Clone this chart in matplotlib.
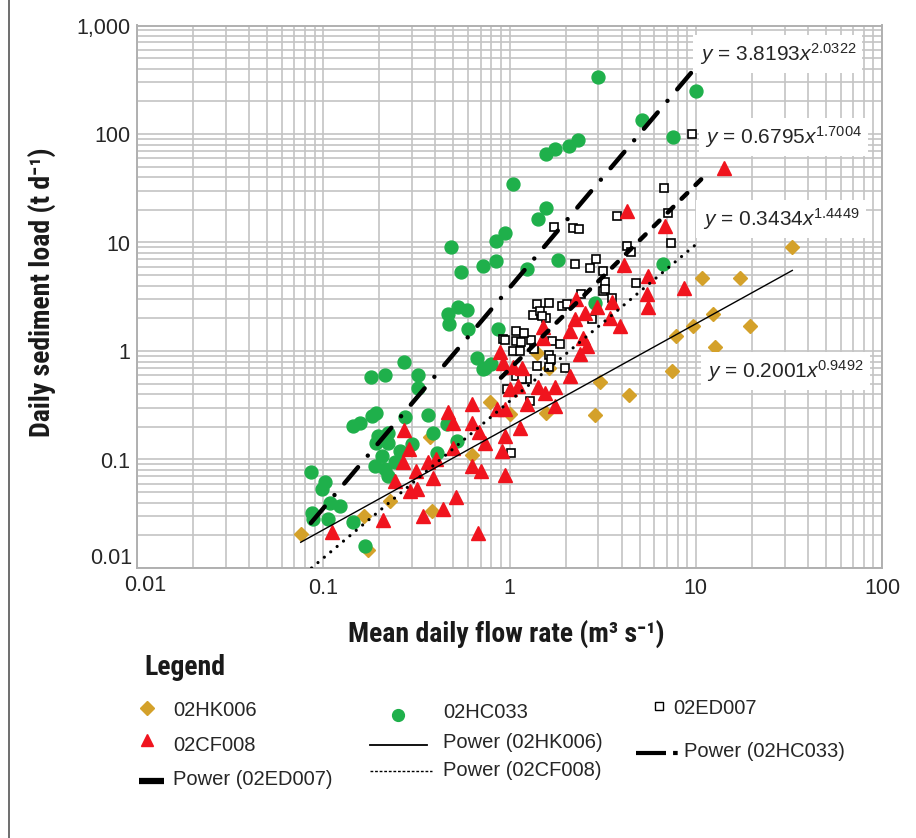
import numpy as np
import matplotlib
matplotlib.use('Agg')
import matplotlib.pyplot as plt
from matplotlib.lines import Line2D
from matplotlib.ticker import LogLocator, NullFormatter
from matplotlib import font_manager as fm

plt.rcParams['mathtext.fontset'] = 'custom'
plt.rcParams['mathtext.rm'] = 'Liberation Sans'
plt.rcParams['mathtext.it'] = 'Liberation Sans:italic'
plt.rcParams['mathtext.bf'] = 'Liberation Sans:bold'

# ---------------- data ----------------
hk_x = [0.0757, 0.166, 0.173, 0.228, 0.382, 0.374, 0.627, 0.786, 1.00, 1.58, 1.40, 1.62,
        3.06, 4.40, 2.88, 7.43, 7.82, 9.68, 12.7, 12.4, 19.5, 10.8, 17.3, 32.8]
hk_y = [0.0205, 0.0302, 0.0146, 0.0416, 0.0337, 0.161, 0.111, 0.340, 0.262, 0.271, 0.95, 0.704,
        0.519, 0.391, 0.256, 0.655, 1.38, 1.70, 1.10, 2.18, 1.70, 4.69, 4.69, 9.0]

hc_x = [0.0859, 0.102, 0.0983, 0.0868, 0.0877, 0.1066, 0.109, 0.123, 0.144, 0.168,
        0.145, 0.158, 0.182, 0.192, 0.180, 0.215, 0.272, 0.324, 0.324, 0.469,
        0.531, 0.589, 0.475, 0.601, 0.667, 0.724, 0.366, 0.275, 0.197, 0.224,
        0.192, 0.224, 0.258, 0.298, 0.206, 0.190, 0.215, 0.224, 0.242, 0.390,
        0.406, 0.520, 0.460, 0.871, 0.739, 0.80, 2.88, 3.0, 1.58, 1.76,
        2.09, 2.34, 1.05, 1.58, 1.43, 0.946, 0.846, 0.485, 0.547, 0.718,
        0.846, 1.24, 1.83, 10.0, 5.12, 7.53, 6.70]
hc_y = [0.0769, 0.0622, 0.0532, 0.032, 0.028, 0.028, 0.040, 0.037, 0.0263, 0.0158,
        0.204, 0.216, 0.252, 0.271, 0.577, 0.598, 0.794, 0.598, 0.457, 2.18,
        2.52, 2.39, 1.77, 1.61, 0.853, 0.68, 0.258, 0.244, 0.165, 0.177,
        0.143, 0.143, 0.120, 0.138, 0.108, 0.0873, 0.0812, 0.0706, 0.094, 0.177,
        0.116, 0.148, 0.211, 1.59, 0.69, 0.755, 2.76, 332, 65.2, 73.5,
        76.7, 87.6, 34.5, 21.0, 16.4, 12.3, 10.3, 9.1, 5.35, 6.1,
        6.7, 5.66, 6.87, 250, 135, 94.6, 6.3]

ed_x = [0.926, 0.946, 1.09, 1.09, 1.05, 1.14, 1.30, 1.69, 1.87, 1.62, 1.40, 1.62,
        1.99, 1.24, 1.09, 0.966, 1.29, 1.02, 1.40, 1.62, 1.33, 1.46, 1.58, 1.91,
        2.03, 2.76, 3.54, 3.19, 3.26, 4.76, 3.19, 2.25, 2.71, 2.93, 4.26, 4.47,
        1.74, 2.18, 2.37, 3.79, 7.12, 7.33, 6.76, 9.51, 1.20, 1.15, 1.35, 1.50,
        2.42, 1.68, 1.16, 3.26]
ed_y = [1.28, 1.26, 1.53, 1.24, 1.00, 1.00, 1.27, 1.24, 1.16, 0.915, 0.729, 0.719,
        0.704, 0.55, 0.589, 0.444, 0.347, 0.116, 2.70, 2.76, 2.14, 2.34, 2.03, 2.60,
        2.70, 1.96, 3.11, 3.58, 4.35, 4.21, 5.47, 6.3, 5.76, 7.0, 9.3, 8.1,
        14.0, 13.7, 13.3, 17.6, 18.9, 9.8, 31.5, 101, 1.45, 1.20, 1.05, 2.10,
        3.34, 0.84, 0.55, 3.70]

cf_x = [0.111, 0.210, 0.271, 0.287, 0.269, 0.315, 0.242, 0.292, 0.317, 0.390,
        0.366, 0.403, 0.345, 0.441, 0.516, 0.469, 0.499, 0.627, 0.627, 0.690,
        0.495, 0.627, 0.700, 0.680, 0.739, 0.853, 0.946, 1.24, 1.14, 0.946,
        0.908, 0.946, 1.75, 0.889, 0.926, 1.05, 1.16, 1.01, 1.11, 1.43,
        1.55, 1.75, 2.11, 1.52, 1.51, 2.11, 2.49, 2.60, 2.39, 2.27,
        2.54, 2.25, 2.94, 3.54, 3.46, 3.92, 4.12, 4.29, 5.56, 5.45,
        5.56, 6.83, 8.6, 14.2]
cf_y = [0.0215, 0.0278, 0.187, 0.124, 0.094, 0.0787, 0.0636, 0.0515, 0.0532, 0.0682,
        0.094, 0.101, 0.0302, 0.0348, 0.0447, 0.275, 0.219, 0.323, 0.219, 0.178,
        0.129, 0.0873, 0.0787, 0.0212, 0.143, 0.291, 0.291, 0.323, 0.197, 0.165,
        0.120, 0.0718, 0.312, 0.969, 0.783, 0.719, 0.704, 0.444, 0.477, 0.461,
        0.414, 0.461, 0.589, 1.65, 1.33, 1.53, 1.33, 1.11, 0.934, 3.0,
        2.26, 1.96, 2.52, 2.80, 2.0, 1.70, 6.2, 19.5, 4.86, 3.34,
        2.52, 14.2, 3.77, 48.3]

# power trendlines: coefficient, exponent, drawn x-range
fit_names = ['02HK006', '02CF008', '02ED007', '02HC033']
fit_a = [0.2001, 0.3434, 0.6795, 3.8193]
fit_b = [0.9492, 1.4449, 1.7004, 2.0322]
fit_lo = [0.0757, 0.080, 0.90, 0.0859]
fit_hi = [33.0, 10.3, 11.0, 9.7]
eq_text = [r'$\mathit{y}$ = 0.2001$\mathit{x}^{0.9492}$',
           r'$\mathit{y}$ = 0.3434$\mathit{x}^{1.4449}$',
           r'$\mathit{y}$ = 0.6795$\mathit{x}^{1.7004}$',
           r'$\mathit{y}$ = 3.8193$\mathit{x}^{2.0322}$']
eq_pos = [(11.5, 0.652), (10.9, 16.4), (11.2, 93.5), (10.5, 543)]

x_ticks = [0.01, 0.1, 1, 10, 100]
x_labels = ['0.01', '0.1', '1', '10', '100']
y_ticks = [0.01, 0.1, 1, 10, 100, 1000]
y_labels = ['0.01', '0.1', '1', '10', '100', '1,000']

# ---------------- styles ----------------
C_GOLD = '#d4a12a'
C_GREEN = '#1fb04b'
C_RED = '#f0141e'
GRID = '#c4c4c4'
TXT = '#262626'
W, H = 916, 838

# choose a condensed bold family for titles if one is installed
_fl = fm.fontManager.ttflist


def _has(name, stretch=None):
    for f in _fl:
        if f.name == name and (stretch is None or f.stretch == stretch):
            w = f.weight if isinstance(f.weight, int) else 700
            if w >= 600:
                return True
    return False


if _has('Liberation Sans Narrow'):
    title_kw = dict(family=['Liberation Sans Narrow', 'DejaVu Sans'])
elif _has('Roboto Condensed'):
    title_kw = dict(family=['Roboto Condensed', 'DejaVu Sans'])
elif _has('DejaVu Sans', 'condensed'):
    title_kw = dict(family=['DejaVu Sans'], fontstretch='condensed')
elif _has('Open Sans', 'condensed'):
    title_kw = dict(family=['Open Sans', 'DejaVu Sans'], fontstretch='condensed')
else:
    title_kw = dict(family=['Liberation Sans', 'DejaVu Sans'])

fig = plt.figure(figsize=(W / 100, H / 100), dpi=100)
ax = fig.add_axes([137 / W, 1 - 568 / H, (882 - 137) / W, (568 - 25.5) / H])
ax.set_xscale('log')
ax.set_yscale('log')
ax.set_xlim(0.01, 100)
ax.set_ylim(0.01, 1000)

for ax_ in (ax.xaxis, ax.yaxis):
    ax_.set_minor_locator(LogLocator(base=10, subs=np.arange(2, 10), numticks=20))
    ax_.set_minor_formatter(NullFormatter())
ax.grid(which='both', color=GRID, lw=1.2)
ax.set_axisbelow(True)
for s in ax.spines.values():
    s.set_color('#b0b0b0')
    s.set_linewidth(1.4)

ax.set_xticks(x_ticks, ['' if l == '0.01' else l for l in x_labels])
ax.set_yticks(y_ticks, ['' if l == '0.01' else l for l in y_labels])
ax.tick_params(which='both', length=0)
ax.tick_params(axis='x', pad=7)
ax.tick_params(axis='y', pad=5)
for lab in ax.get_xticklabels() + ax.get_yticklabels():
    lab.set_fontfamily('Liberation Sans')
    lab.set_fontsize(15.5)
    lab.set_color(TXT)
# shifted corner labels (as in the reference)
ax.text(0.0 + 8 / 745, -0.012, x_labels[0], transform=ax.transAxes, ha='center', va='top',
        fontsize=15.5, family='Liberation Sans', color=TXT)
ax.text(-5 / 745, 9 / 542.5, y_labels[0], transform=ax.transAxes, ha='right', va='center',
        fontsize=15.5, family='Liberation Sans', color=TXT)

# series
ax.plot(hk_x, hk_y, ls='none', marker='D', ms=7, color=C_GOLD, mec=C_GOLD, zorder=3)
ax.plot(hc_x, hc_y, ls='none', marker='o', ms=9.3, color=C_GREEN, mec=C_GREEN, zorder=4)
ax.plot(ed_x, ed_y, ls='none', marker='s', ms=6, mfc='white', mec='black', mew=1.2, zorder=5)
ax.plot(cf_x, cf_y, ls='none', marker='^', ms=9.5, color=C_RED, mec=C_RED, zorder=6)

line_styles = [
    dict(lw=1.0, ls='-'),
    dict(lw=2.3, dashes=(0.01, 2.6), dash_capstyle='round'),
    dict(lw=3.2, dashes=(1.8, 2.6), dash_capstyle='round'),
    dict(lw=3.2, dashes=(4.8, 3.4, 0.01, 3.4), dash_capstyle='round'),
]
for a, b, lo, hi, st in zip(fit_a, fit_b, fit_lo, fit_hi, line_styles):
    xs = np.geomspace(lo, hi, 300)
    ax.plot(xs, a * xs ** b, color='black', zorder=8, **st)

for t, (ex, ey) in zip(eq_text, eq_pos):
    ax.text(ex, ey, t, ha='left', va='center', fontsize=15, family='Liberation Sans',
            color=TXT, zorder=9,
            bbox=dict(boxstyle='square,pad=0.3', fc='white', ec='none'))

# axis titles
xl = fig.text(506 / W, 1 - 634 / H, 'Mean daily flow rate (m³ s⁻¹)', ha='center', va='center',
              fontsize=17, fontweight='bold', color='#1a1a1a', **title_kw)
yl = fig.text(42 / W, 1 - 292 / H, 'Daily sediment load (t d⁻¹)', ha='center', va='center',
              rotation=90, fontsize=17, fontweight='bold', color='#1a1a1a', **title_kw)


# ---------------- legend ----------------
def fx(px):
    return px / W


def fy(py):
    return 1 - py / H


lg = fig.text(fx(144), fy(667), 'Legend', ha='left', va='center', fontsize=17,
              fontweight='bold', color='#1a1a1a', **title_kw)

# fit the condensed title sizes to the widths seen in the reference
renderer = fig.canvas.get_renderer()
for t, target, horiz in ((xl, 323, True), (yl, 296, False), (lg, 87, True)):
    for _ in range(3):
        bb = t.get_window_extent(renderer)
        size = bb.width if horiz else bb.height
        t.set_fontsize(t.get_fontsize() * target / size)
    t.set_fontsize(min(t.get_fontsize(), 20))


def leg_marker(px, py, **kw):
    fig.add_artist(Line2D([fx(px)], [fy(py)], ls='none', transform=fig.transFigure, **kw))


def leg_line(x0, x1, py, **kw):
    fig.add_artist(Line2D([fx(x0), fx(x1)], [fy(py), fy(py)], color='black',
                          transform=fig.transFigure, **kw))


def leg_text(px, py, s):
    fig.text(fx(px), fy(py), s, ha='left', va='center', fontsize=14.5,
             family='Liberation Sans', color=TXT)


leg_marker(147, 708, marker='D', ms=7, color=C_GOLD, mec=C_GOLD)
leg_text(173, 710, fit_names[0])
leg_marker(147, 740, marker='^', ms=8.5, color=C_RED, mec=C_RED)
leg_text(173, 745, fit_names[1])
leg_line(139, 164, 781, lw=4.5, solid_capstyle='butt')
leg_text(173, 779, 'Power (' + fit_names[2] + ')')

leg_marker(398, 715, marker='o', ms=8.5, color=C_GREEN, mec=C_GREEN)
leg_text(443, 712, fit_names[3])
leg_line(370, 427, 745, lw=1.3)
leg_text(443, 742, 'Power (' + fit_names[0] + ')')
leg_line(370, 432, 771, lw=1.0, dashes=(2, 1.3))
leg_text(443, 770, 'Power (' + fit_names[1] + ')')

leg_marker(659, 706, marker='s', ms=6, mfc='white', mec='black', mew=1.0)
leg_text(673, 708, fit_names[2])
leg_line(636, 678, 753, lw=3.0, dashes=(7.2, 1.7, 1.1, 5), solid_capstyle='butt',
         dash_capstyle='butt')
leg_text(684, 751, 'Power (' + fit_names[3] + ')')

# figure border line at left
fig.add_artist(Line2D([fx(8.5), fx(8.5)], [0, 1], color='#555555', lw=1.2,
                      transform=fig.transFigure))

fig.savefig('out.png', dpi=100)
